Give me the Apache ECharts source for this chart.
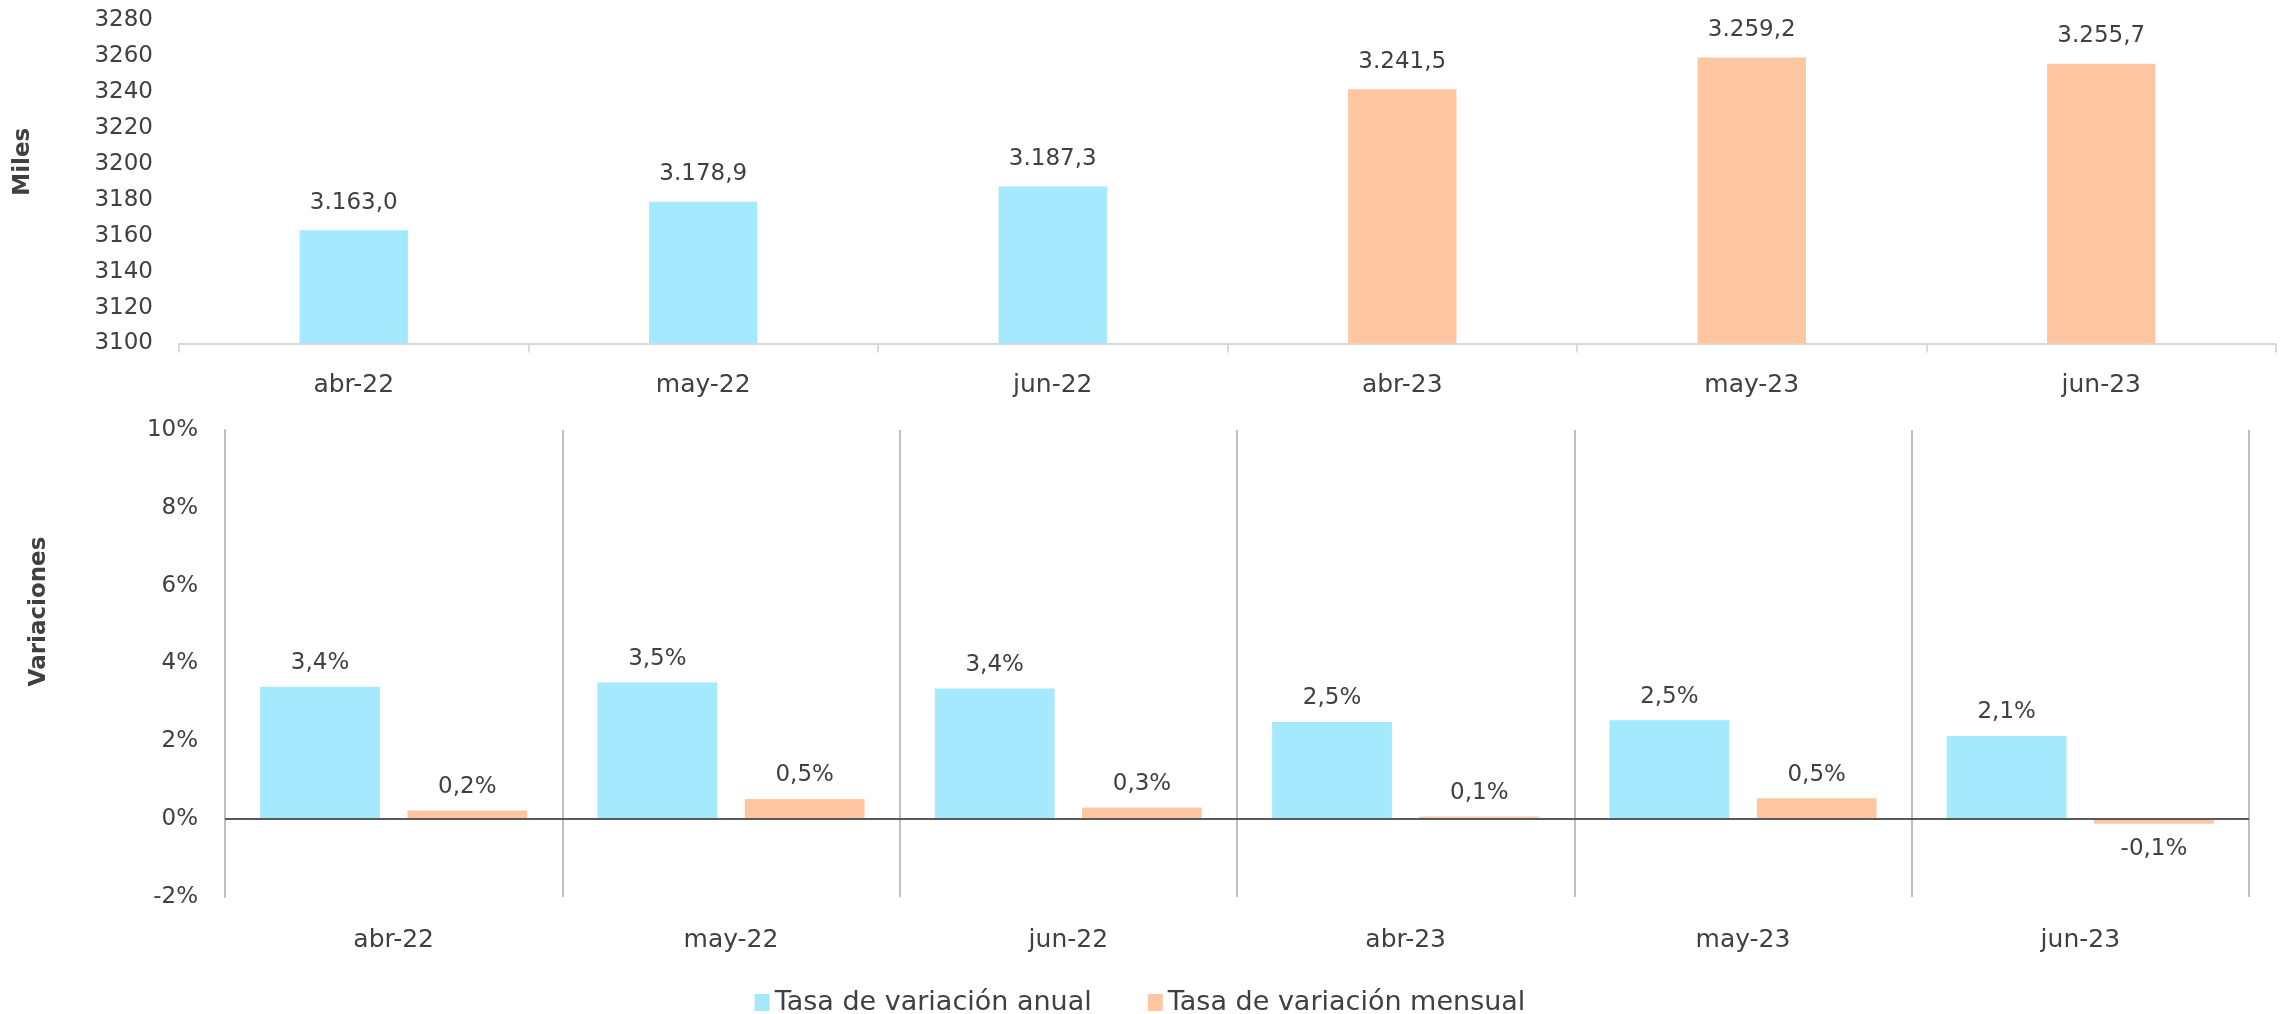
<!DOCTYPE html>
<html>
<head>
<meta charset="utf-8">
<script src="https://cdn.jsdelivr.net/npm/echarts@6/dist/echarts.min.js"></script>
<style>
  html, body { margin: 0; padding: 0; background: #fff; }
  #chart { width: 2280px; height: 1014px; }
</style>
</head>
<body>
<div id="chart"></div>
<script>
const meses = ['abr-22', 'may-22', 'jun-22', 'abr-23', 'may-23', 'jun-23']
// afiliados, miles
const miles = [3163.0, 3178.9, 3187.3, 3241.5, 3259.2, 3255.7]
// variaciones, %
const tasaAnual = [3.40, 3.51, 3.36, 2.50, 2.54, 2.14]
const tasaMensual = [0.22, 0.52, 0.30, 0.07, 0.54, -0.12]
const milesTicks = { min: 3100, max: 3280, interval: 20 }
const varTicks = { min: -2, max: 10, interval: 2 }

const azul = '#a4e9fd'
const naranja = '#ffc6a1'
const texto = '#404040'
const fuente = 'DejaVu Sans'

const fmtMiles = v => {
  const [ent, dec] = v.toFixed(1).split('.')
  return ent.replace(/\B(?=(\d{3})+(?!\d))/g, '.') + ',' + dec
}
const fmtPct = v => v.toFixed(1).replace('.', ',') + '%'

const chart = echarts.init(document.getElementById('chart'))

const pctLabel = {
  show: true,
  position: 'top',
  distance: 12,
  color: texto,
  fontFamily: fuente,
  fontSize: 23,
  formatter: p => fmtPct(p.value),
}

const pctData = arr =>
  arr.map(v => (v < 0 ? { value: v, label: { position: 'bottom', distance: 14 } } : v))

chart.setOption({
  animation: false,
  textStyle: { fontFamily: fuente },
  legend: {
    data: ['Tasa de variación anual', 'Tasa de variación mensual'],
    top: 984,
    left: 'center',
    itemWidth: 15,
    itemHeight: 17,
    itemGap: 56,
    textStyle: { color: texto, fontSize: 27, fontFamily: fuente },
    icon: 'rect',
  },
  grid: [
    { left: 179, right: 4, top: 20, height: 323.5 },
    { left: 225, right: 31, top: 430, height: 467 },
  ],
  xAxis: [
    {
      gridIndex: 0,
      type: 'category',
      data: meses,
      axisLine: { lineStyle: { color: '#d9d9d9', width: 2 } },
      axisTick: { show: true, length: 9, lineStyle: { color: '#d9d9d9', width: 2 } },
      axisLabel: { color: texto, fontSize: 25, margin: 29, fontFamily: fuente },
    },
    {
      gridIndex: 1,
      type: 'category',
      data: meses,
      axisLine: { show: false, onZero: false },
      axisTick: { show: false },
      splitLine: { show: true, lineStyle: { color: '#bfbfbf', width: 2 } },
      axisLabel: { color: texto, fontSize: 25, margin: 31, fontFamily: fuente },
    },
  ],
  yAxis: [
    {
      gridIndex: 0,
      type: 'value',
      min: milesTicks.min,
      max: milesTicks.max,
      interval: milesTicks.interval,
      name: 'Miles',
      nameLocation: 'middle',
      nameGap: 144,
      nameTextStyle: {
        color: texto, fontSize: 23, fontWeight: 'bold', fontFamily: fuente,
        padding: [0, 0, 0, 40],
      },
      axisLine: { show: false },
      axisTick: { show: false },
      splitLine: { show: false },
      axisLabel: { color: texto, fontSize: 23, margin: 26, fontFamily: fuente, formatter: v => String(v) },
    },
    {
      gridIndex: 1,
      type: 'value',
      min: varTicks.min,
      max: varTicks.max,
      interval: varTicks.interval,
      name: 'Variaciones',
      nameLocation: 'middle',
      nameGap: 174,
      nameTextStyle: {
        color: texto, fontSize: 23, fontWeight: 'bold', fontFamily: fuente,
        padding: [0, 0, 0, 104],
      },
      axisLine: { show: true, lineStyle: { color: '#bfbfbf', width: 2 } },
      axisTick: { show: false },
      splitLine: { show: false },
      axisLabel: { color: texto, fontSize: 23, margin: 27, fontFamily: fuente, formatter: '{value}%' },
    },
  ],
  series: [
    {
      name: 'Miles',
      type: 'bar',
      xAxisIndex: 0,
      yAxisIndex: 0,
      barWidth: '31%',
      data: miles,
      itemStyle: { color: p => (p.dataIndex < 3 ? azul : naranja) },
      label: {
        show: true,
        position: 'top',
        distance: 16,
        color: texto,
        fontSize: 23,
        fontFamily: fuente,
        formatter: p => fmtMiles(p.value),
      },
    },
    {
      name: 'Tasa de variación anual',
      type: 'bar',
      xAxisIndex: 1,
      yAxisIndex: 1,
      barWidth: '35.5%',
      barGap: '23%',
      data: pctData(tasaAnual),
      itemStyle: { color: azul },
      label: pctLabel,
      markLine: {
        silent: true,
        symbol: 'none',
        label: { show: false },
        lineStyle: { color: '#595959', width: 2, type: 'solid' },
        data: [{ yAxis: 0 }],
      },
    },
    {
      name: 'Tasa de variación mensual',
      type: 'bar',
      xAxisIndex: 1,
      yAxisIndex: 1,
      barWidth: '35.5%',
      barGap: '23%',
      data: pctData(tasaMensual),
      itemStyle: { color: naranja },
      label: pctLabel,
    },
  ],
})
</script>
</body>
</html>
